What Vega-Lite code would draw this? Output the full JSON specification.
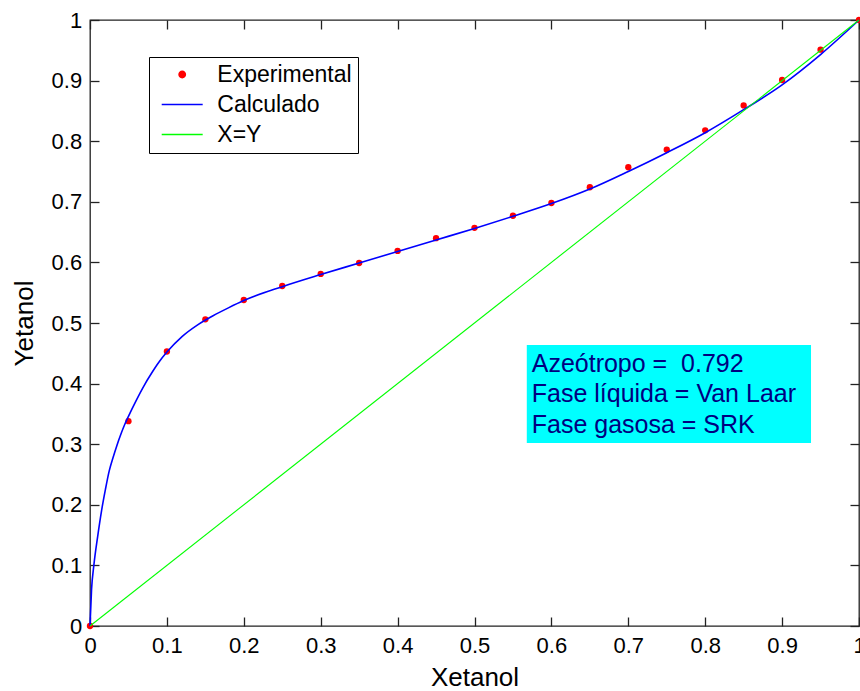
{
  "$schema": "https://vega.github.io/schema/vega-lite/v6.json",
  "width": 769,
  "height": 606,
  "autosize": "none",
  "padding": {"left": 90, "top": 20, "right": 1, "bottom": 65},
  "background": "white",
  "config": {
    "font": "Liberation Sans",
    "view": {"stroke": "#222", "strokeWidth": 1.3},
    "legend": {
      "title": null, "orient": "none", "legendX": 59, "legendY": 37,
      "strokeColor": "#000", "fillColor": "#fff", "padding": 6,
      "labelFontSize": 23, "labelFont": "Liberation Sans", "labelColor": "#000",
      "labelExpr": "datum.label + '\u2002\u200b'",
      "symbolType": "stroke", "symbolSize": 420, "symbolStrokeWidth": 1.5,
      "labelOffset": 23.6, "symbolOffset": 15.7, "rowPadding": 6
    }
  },
  "datasets": {
    "exp": [
      {"series": "Experimental", "x": 0, "y": 0},
      {"series": "Experimental", "x": 0.05, "y": 0.338},
      {"series": "Experimental", "x": 0.1, "y": 0.453},
      {"series": "Experimental", "x": 0.15, "y": 0.506},
      {"series": "Experimental", "x": 0.2, "y": 0.538},
      {"series": "Experimental", "x": 0.25, "y": 0.561},
      {"series": "Experimental", "x": 0.3, "y": 0.581},
      {"series": "Experimental", "x": 0.35, "y": 0.599},
      {"series": "Experimental", "x": 0.4, "y": 0.619},
      {"series": "Experimental", "x": 0.45, "y": 0.640},
      {"series": "Experimental", "x": 0.5, "y": 0.657},
      {"series": "Experimental", "x": 0.55, "y": 0.677},
      {"series": "Experimental", "x": 0.6, "y": 0.698},
      {"series": "Experimental", "x": 0.65, "y": 0.724},
      {"series": "Experimental", "x": 0.7, "y": 0.757},
      {"series": "Experimental", "x": 0.75, "y": 0.786},
      {"series": "Experimental", "x": 0.8, "y": 0.818},
      {"series": "Experimental", "x": 0.85, "y": 0.859},
      {"series": "Experimental", "x": 0.9, "y": 0.901},
      {"series": "Experimental", "x": 0.95, "y": 0.951},
      {"series": "Experimental", "x": 1.0, "y": 1.0}
    ],
    "calc": [
      {"series": "Calculado", "x": 0, "y": 0},
      {"series": "Calculado", "x": 0.002, "y": 0.06},
      {"series": "Calculado", "x": 0.005, "y": 0.10},
      {"series": "Calculado", "x": 0.01, "y": 0.148},
      {"series": "Calculado", "x": 0.015, "y": 0.19},
      {"series": "Calculado", "x": 0.02, "y": 0.225},
      {"series": "Calculado", "x": 0.025, "y": 0.256},
      {"series": "Calculado", "x": 0.03, "y": 0.278},
      {"series": "Calculado", "x": 0.035, "y": 0.298},
      {"series": "Calculado", "x": 0.04, "y": 0.316},
      {"series": "Calculado", "x": 0.045, "y": 0.332},
      {"series": "Calculado", "x": 0.05, "y": 0.346},
      {"series": "Calculado", "x": 0.06, "y": 0.372},
      {"series": "Calculado", "x": 0.07, "y": 0.396},
      {"series": "Calculado", "x": 0.08, "y": 0.417},
      {"series": "Calculado", "x": 0.09, "y": 0.436},
      {"series": "Calculado", "x": 0.1, "y": 0.452},
      {"series": "Calculado", "x": 0.12, "y": 0.478},
      {"series": "Calculado", "x": 0.14, "y": 0.497},
      {"series": "Calculado", "x": 0.16, "y": 0.512},
      {"series": "Calculado", "x": 0.18, "y": 0.525},
      {"series": "Calculado", "x": 0.2, "y": 0.537},
      {"series": "Calculado", "x": 0.25, "y": 0.560},
      {"series": "Calculado", "x": 0.3, "y": 0.580},
      {"series": "Calculado", "x": 0.35, "y": 0.599},
      {"series": "Calculado", "x": 0.4, "y": 0.618},
      {"series": "Calculado", "x": 0.45, "y": 0.637},
      {"series": "Calculado", "x": 0.5, "y": 0.656},
      {"series": "Calculado", "x": 0.55, "y": 0.676},
      {"series": "Calculado", "x": 0.6, "y": 0.697},
      {"series": "Calculado", "x": 0.65, "y": 0.721},
      {"series": "Calculado", "x": 0.7, "y": 0.750},
      {"series": "Calculado", "x": 0.75, "y": 0.781},
      {"series": "Calculado", "x": 0.8, "y": 0.814},
      {"series": "Calculado", "x": 0.85, "y": 0.852},
      {"series": "Calculado", "x": 0.9, "y": 0.893},
      {"series": "Calculado", "x": 0.95, "y": 0.943},
      {"series": "Calculado", "x": 1.0, "y": 1.0}
    ],
    "diag": [
      {"series": "X=Y", "x": 0, "y": 0},
      {"series": "X=Y", "x": 1, "y": 1}
    ]
  },
  "layer": [
    {
      "data": {"name": "exp"},
      "mark": {"type": "point", "filled": true, "size": 40, "opacity": 1, "shape": "circle"},
      "encoding": {
        "x": {
          "field": "x", "type": "quantitative",
          "scale": {"domain": [0, 1], "nice": false, "zero": false},
          "axis": {
            "orient": "bottom",
            "values": [0, 0.1, 0.2, 0.3, 0.4, 0.5, 0.6, 0.7, 0.8, 0.9, 1],
            "format": "~g", "domain": false, "grid": false,
            "tickSize": -9, "tickColor": "#222", "tickWidth": 1.3,
            "labelPadding": 18.5, "labelFontSize": 22, "labelColor": "#000",
            "labelFont": "Liberation Sans", "labelFlush": false, "labelOverlap": false,
            "title": "Xetanol", "titleFontSize": 26, "titleFontWeight": "normal",
            "titleColor": "#000", "titleFont": "Liberation Sans", "titlePadding": 8
          }
        },
        "y": {
          "field": "y", "type": "quantitative",
          "scale": {"domain": [0, 1], "nice": false, "zero": false},
          "axis": {
            "orient": "left",
            "values": [0, 0.1, 0.2, 0.3, 0.4, 0.5, 0.6, 0.7, 0.8, 0.9, 1],
            "format": "~g", "domain": false, "grid": false,
            "tickSize": -9, "tickColor": "#222", "tickWidth": 1.3,
            "labelPadding": 17.3, "labelFontSize": 22, "labelColor": "#000",
            "labelFont": "Liberation Sans", "labelFlush": false, "labelOverlap": false,
            "title": "Yetanol", "titleFontSize": 26, "titleFontWeight": "normal",
            "titleColor": "#000", "titleFont": "Liberation Sans", "titlePadding": 14
          }
        },
        "color": {
          "field": "series", "type": "nominal",
          "scale": {"domain": ["Experimental", "Calculado", "X=Y"], "range": ["#ff0000", "#0000ff", "#00ff00"]},
          "legend": {
            "encode": {
              "symbols": {
                "update": {
                  "shape": {"signal": "datum.value === 'Experimental' ? 'circle' : 'M-2,0H2'"},
                  "size": {"signal": "datum.value === 'Experimental' ? 40 : 420"},
                  "fill": {"signal": "datum.value === 'Experimental' ? '#ff0000' : 'transparent'"},
                  "stroke": {"signal": "datum.value === 'Calculado' ? '#0000ff' : datum.value === 'X=Y' ? '#00ff00' : 'transparent'"},
                  "strokeWidth": {"value": 1.5},
                  "opacity": {"value": 1}
                }
              }
            }
          }
        }
      }
    },
    {
      "data": {"name": "calc"},
      "mark": {"type": "line", "strokeWidth": 1.6, "interpolate": "monotone"},
      "encoding": {
        "x": {"field": "x", "type": "quantitative", "axis": null},
        "y": {"field": "y", "type": "quantitative", "axis": null},
        "color": {
          "field": "series", "type": "nominal",
          "legend": {
            "encode": {
              "symbols": {
                "update": {
                  "shape": {"signal": "datum.value === 'Experimental' ? 'circle' : 'M-2,0H2'"},
                  "size": {"signal": "datum.value === 'Experimental' ? 40 : 420"},
                  "fill": {"signal": "datum.value === 'Experimental' ? '#ff0000' : 'transparent'"},
                  "stroke": {"signal": "datum.value === 'Calculado' ? '#0000ff' : datum.value === 'X=Y' ? '#00ff00' : 'transparent'"},
                  "strokeWidth": {"value": 1.5},
                  "opacity": {"value": 1}
                }
              }
            }
          }
        }
      }
    },
    {
      "data": {"name": "diag"},
      "mark": {"type": "line", "strokeWidth": 1.1},
      "encoding": {
        "x": {
          "field": "x", "type": "quantitative",
          "axis": {
            "orient": "top", "values": [0, 0.1, 0.2, 0.3, 0.4, 0.5, 0.6, 0.7, 0.8, 0.9, 1],
            "labels": false, "domain": false, "grid": false, "title": null,
            "tickSize": -9, "tickColor": "#222", "tickWidth": 1.3
          }
        },
        "y": {
          "field": "y", "type": "quantitative",
          "axis": {
            "orient": "right", "values": [0, 0.1, 0.2, 0.3, 0.4, 0.5, 0.6, 0.7, 0.8, 0.9, 1],
            "labels": false, "domain": false, "grid": false, "title": null,
            "tickSize": -9, "tickColor": "#222", "tickWidth": 1.3
          }
        },
        "color": {
          "field": "series", "type": "nominal",
          "legend": {
            "encode": {
              "symbols": {
                "update": {
                  "shape": {"signal": "datum.value === 'Experimental' ? 'circle' : 'M-2,0H2'"},
                  "size": {"signal": "datum.value === 'Experimental' ? 40 : 420"},
                  "fill": {"signal": "datum.value === 'Experimental' ? '#ff0000' : 'transparent'"},
                  "stroke": {"signal": "datum.value === 'Calculado' ? '#0000ff' : datum.value === 'X=Y' ? '#00ff00' : 'transparent'"},
                  "strokeWidth": {"value": 1.5},
                  "opacity": {"value": 1}
                }
              }
            }
          }
        }
      }
    },
    {
      "data": {"values": [{}]},
      "mark": {"type": "rect", "fill": "#00ffff"},
      "encoding": {
        "x": {"datum": 0.568, "type": "quantitative", "axis": null},
        "x2": {"datum": 0.9376},
        "y": {"datum": 0.4637, "type": "quantitative", "axis": null},
        "y2": {"datum": 0.302}
      }
    },
    {
      "data": {"values": [{}]},
      "mark": {
        "type": "text", "align": "left", "baseline": "alphabetic",
        "font": "Liberation Sans", "fontSize": 25, "color": "#000080", "lineHeight": 30.7,
        "text": ["Azeótropo = \u00a00.792", "Fase líquida = Van Laar", "Fase gasosa = SRK"]
      },
      "encoding": {
        "x": {"datum": 0.5744, "type": "quantitative", "axis": null},
        "y": {"datum": 0.4196, "type": "quantitative", "axis": null}
      }
    }
  ],
  "resolve": {"axis": {"x": "independent", "y": "independent"}}
}
